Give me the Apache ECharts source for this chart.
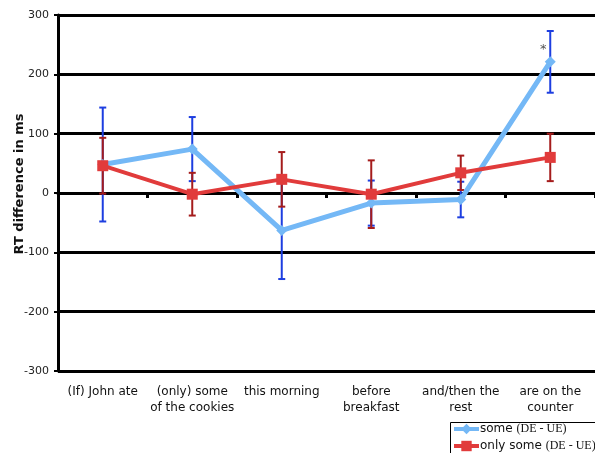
<!DOCTYPE html>
<html>
<head>
<meta charset="utf-8">
<script src="https://cdn.jsdelivr.net/npm/echarts@6/dist/echarts.min.js"></script>
<style>
html,body{margin:0;padding:0;background:#fff;}
#chart{width:595px;height:453px;}
</style>
</head>
<body>
<div id="chart"></div>
<script>
var categories = ["(If) John ate", "(only) some\nof the cookies", "this morning", "before\nbreakfast", "and/then the\nrest", "are on the\ncounter"];
var someMean = [48, 74, -63, -17, -11, 221];
var someErr = [96, 54, 82, 38, 30, 52];
var onlyMean = [46, -2, 23, -2, 34, 60];
var onlyErr = [47, 36, 46, 57, 29, 40];
var yTicks = [-300, -200, -100, 0, 100, 200, 300];
var starPoint = [5, 246];

function errData(mean, err) {
  return mean.map(function (m, i) { return [i, m - err[i], m + err[i]]; });
}
function errRender(color) {
  return function (params, api) {
    var x = api.value(0);
    var lo = api.coord([x, api.value(1)]);
    var hi = api.coord([x, api.value(2)]);
    var cap = 3.5;
    var style = { stroke: color, lineWidth: 2 };
    return {
      type: 'group',
      children: [
        { type: 'line', shape: { x1: lo[0], y1: lo[1], x2: hi[0], y2: hi[1] }, style: style },
        { type: 'line', shape: { x1: lo[0] - cap, y1: lo[1], x2: lo[0] + cap, y2: lo[1] }, style: style },
        { type: 'line', shape: { x1: hi[0] - cap, y1: hi[1], x2: hi[0] + cap, y2: hi[1] }, style: style }
      ]
    };
  };
}

var chart = echarts.init(document.getElementById('chart'), null, { renderer: 'canvas' });
var font = 'DejaVu Sans';
function legendCfg(name, top) {
  return {
    orient: 'horizontal',
    left: 452,
    top: top,
    data: [name],
    padding: 0,
    itemWidth: 25,
    itemHeight: 13,
    itemGap: 0,
    lineStyle: { width: 4 },
    textStyle: {
      fontFamily: font, fontSize: 12, color: '#111', padding: [0, 0, 0, -4],
      rich: { s: { fontFamily: 'Liberation Serif', fontSize: 12, color: '#111' } }
    },
    formatter: function (n) { return n + ' {s|(DE - UE)}'; }
  };
}
chart.setOption({
  animation: false,
  backgroundColor: '#fff',
  grid: [
    { left: 58, right: -3, top: 15, bottom: 82, containLabel: false },
    { left: 58, right: -3, top: 15, bottom: 260, containLabel: false }
  ],
  xAxis: [{
    type: 'category',
    gridIndex: 0,
    data: categories,
    position: 'bottom',
    axisLine: { show: false, onZero: false },
    axisTick: { show: false },
    axisLabel: { interval: 0, margin: 13, fontFamily: font, fontSize: 12, color: '#111', lineHeight: 16, align: 'center' },
    splitLine: { show: false }
  }, {
    type: 'category',
    gridIndex: 1,
    data: categories,
    position: 'bottom',
    axisLine: { show: true, onZero: false, lineStyle: { color: '#000', width: 3 } },
    axisTick: { show: true, interval: 0, length: 5, lineStyle: { color: '#000', width: 3 } },
    axisLabel: { show: false, interval: 0 },
    splitLine: { show: false }
  }],
  yAxis: [{
    type: 'value',
    gridIndex: 0,
    min: yTicks[0],
    max: yTicks[yTicks.length - 1],
    interval: 100,
    axisLine: { show: true, lineStyle: { color: '#000', width: 3 } },
    axisTick: { show: true, length: 4, lineStyle: { color: '#000', width: 2 } },
    axisLabel: { margin: 9, fontFamily: font, fontSize: 11, color: '#222' },
    splitLine: { show: true, lineStyle: { color: '#000', width: 3 } }
  }, {
    type: 'value',
    gridIndex: 1,
    min: 0,
    max: yTicks[yTicks.length - 1],
    show: false
  }],
  legend: [legendCfg('some', 423), legendCfg('only some', 440)],
  graphic: [{
    type: 'text',
    x: 20, y: 184,
    rotation: Math.PI / 2,
    style: { text: 'RT difference in ms', fontFamily: font, fontWeight: 'bold', fontSize: 13, fill: '#111', align: 'center', verticalAlign: 'middle' }
  }, {
    type: 'rect',
    shape: { x: 450.5, y: 422.5, width: 160, height: 45 },
    style: { fill: 'none', stroke: '#000', lineWidth: 1 },
    z: 100
  }],
  series: [{
    name: 'someErr',
    type: 'custom',
    xAxisIndex: 0, yAxisIndex: 0,
    data: errData(someMean, someErr),
    renderItem: errRender('#1d3ee0'),
    z: 2
  }, {
    name: 'onlyErr',
    type: 'custom',
    xAxisIndex: 0, yAxisIndex: 0,
    data: errData(onlyMean, onlyErr),
    renderItem: errRender('#a51c1c'),
    z: 3
  }, {
    name: 'some',
    type: 'line',
    data: someMean,
    xAxisIndex: 0, yAxisIndex: 0,
    symbol: 'diamond',
    symbolSize: 11,
    lineStyle: { color: '#74b8f6', width: 5 },
    itemStyle: { color: '#74b8f6' },
    z: 4,
    markPoint: {
      symbol: 'circle', symbolSize: 1,
      itemStyle: { color: 'rgba(0,0,0,0)' },
      label: { show: true, formatter: '*', color: '#555', fontFamily: font, fontSize: 13, offset: [-7, 3] },
      data: [{ coord: starPoint }]
    }
  }, {
    name: 'only some',
    type: 'line',
    data: onlyMean,
    xAxisIndex: 0, yAxisIndex: 0,
    symbol: 'rect',
    symbolSize: 11,
    lineStyle: { color: '#e13b3b', width: 4 },
    itemStyle: { color: '#e13b3b' },
    z: 5
  }]
});
</script>
</body>
</html>
